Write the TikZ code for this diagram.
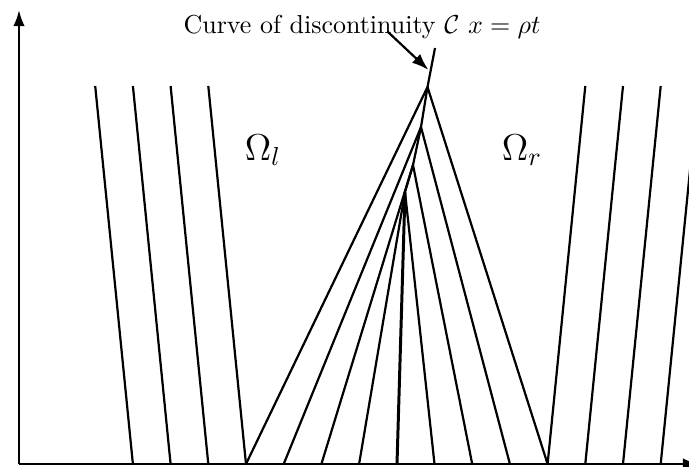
\documentclass[tikz,border=0pt]{standalone}
\usetikzlibrary{arrows.meta,calc}
\begin{document}
\begin{tikzpicture}[x=0.385pt,y=-0.385pt,line width=0.85pt,
  axis/.style={line width=0.85pt,-{Latex[length=6.2pt,width=4.4pt]}},
  arr/.style={line width=0.85pt,-{Latex[length=6.5pt,width=4.6pt]}},
  lbl/.style={inner sep=0pt,anchor=base}]
\useasboundingbox (0,0) rectangle (689,466);
% axes
\coordinate (O) at (19,464);
\coordinate (Y) at (19,10);
\coordinate (X) at (699,464);
\draw[axis] (O) -- (Y);
\draw[axis] (O) -- (X);
% curve of discontinuity
\coordinate (s0) at (397,464);
\coordinate (s4) at (405,192);
\coordinate (s3) at (413,165);
\coordinate (s2) at (421,127);
\coordinate (s1) at (427.5,87);
\coordinate (sT) at (435,48);
\draw[line width=1.15pt] (s0) -- (s4);
\draw (s4) -- (s3) -- (s2) -- (s1) -- (sT);
% fan of characteristics
\foreach \k/\p in {0/s1,1/s2,2/s3,3/s4}{\draw (246+37.7*\k,464) -- (\p);}
\foreach \k/\p in {8/s1,7/s2,6/s3,5/s4}{\draw (246+37.7*\k,464) -- (\p);}
% left characteristics
\foreach \k in {-3,...,0}{\draw (246+37.7*\k,464) -- (208.3+37.7*\k,86);}
% right characteristics
\foreach \k in {8,...,11}{\draw (246+37.7*\k,464) -- (283.7+37.7*\k,86);}
% labels
\node[lbl] (cap) at (362,33) {Curve of discontinuity $\mathcal{C}$ $x=\rho t$};
\coordinate (tip) at (428.5,70);
\draw[arr] ($(cap.base)+(26,-1)$) -- (tip);
\node[lbl] (Ol) at (263,160) {\Large$\Omega_l$};
\node[lbl] (Or) at (522,160) {\Large$\Omega_r$};
\end{tikzpicture}
\end{document}
